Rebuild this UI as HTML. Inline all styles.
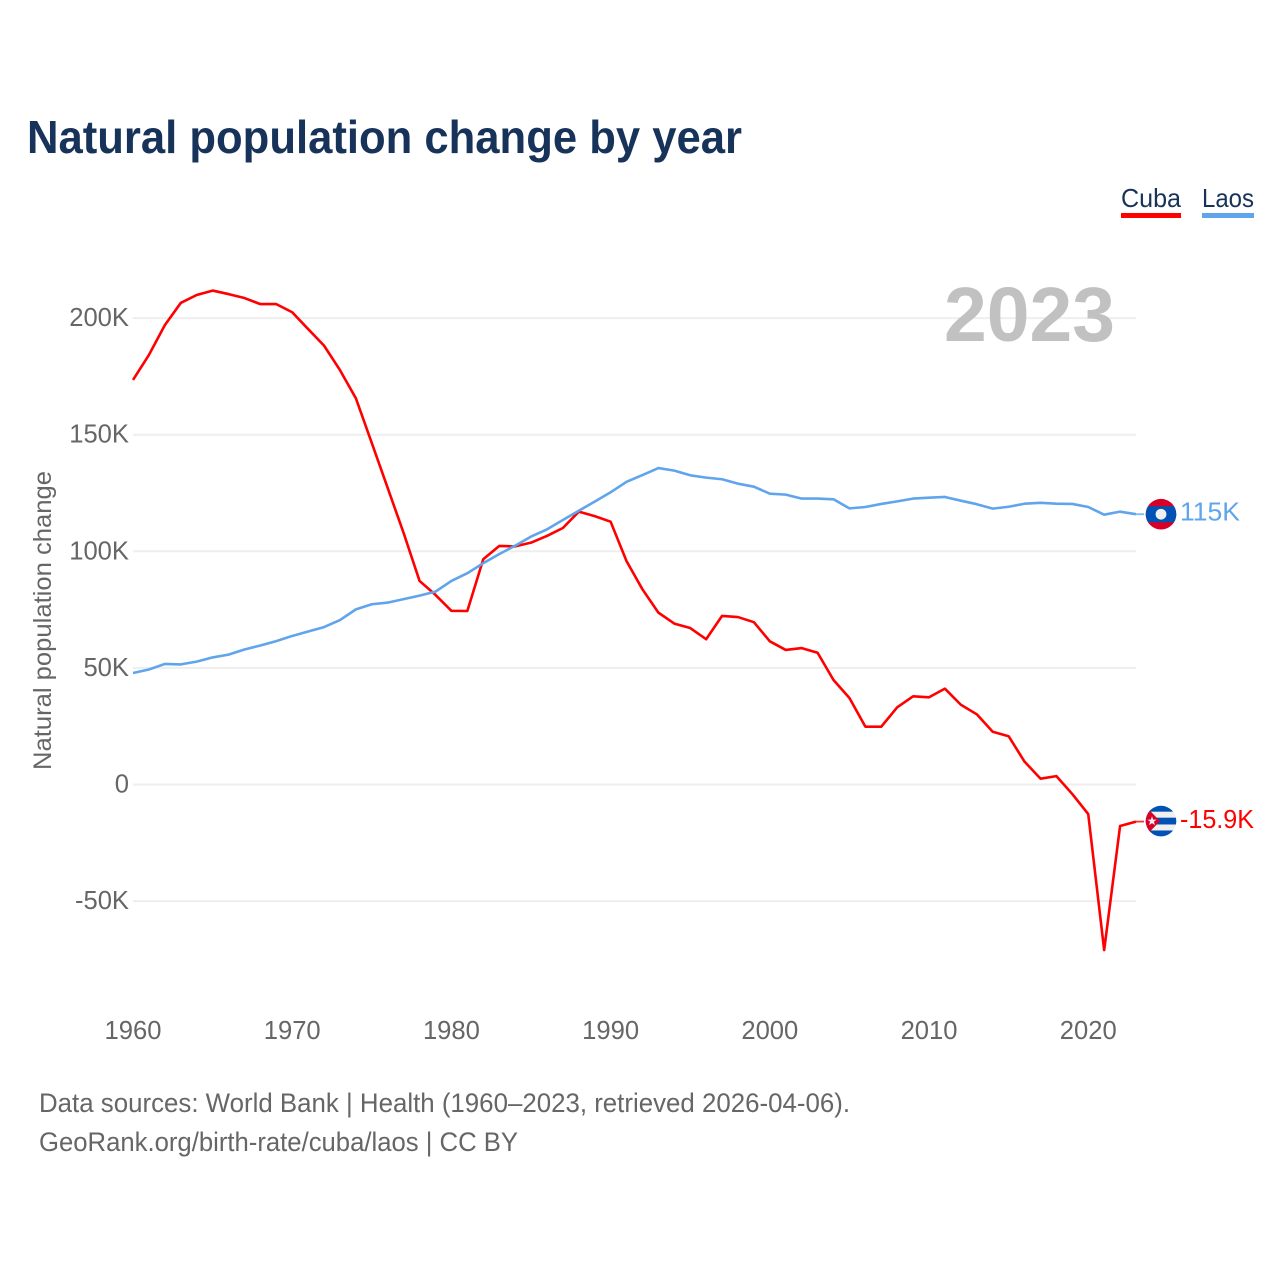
<!DOCTYPE html>
<html lang="en">
<head>
<meta charset="utf-8">
<title>Natural population change by year</title>
<style>
html,body{margin:0;padding:0;background:#fff;}
svg{display:block;font-family:"Liberation Sans",sans-serif;}
</style>
</head>
<body>
<svg id="chart" xmlns="http://www.w3.org/2000/svg" width="1280" height="1280" viewBox="0 0 1280 1280">
  <defs>
    <clipPath id="flag-clip"><circle cx="0" cy="0" r="15.3"/></clipPath>
  </defs>
  <rect x="0" y="0" width="1280" height="1280" fill="#ffffff"/>
  <text x="27" y="153" font-size="46" font-weight="700" fill="#17335a" textLength="715" lengthAdjust="spacingAndGlyphs">Natural population change by year</text>

  <g>
    <g>
      <text x="1121" y="207" font-size="26" fill="#17335a" textLength="60" lengthAdjust="spacingAndGlyphs">Cuba</text>
      <rect x="1121" y="213" width="60" height="5" fill="#ff0000"/>
    </g>
    <g>
      <text x="1202" y="207" font-size="26" fill="#17335a" textLength="52" lengthAdjust="spacingAndGlyphs">Laos</text>
      <rect x="1202" y="213" width="52" height="5" fill="#60a5ec"/>
    </g>
  </g>

  <g id="grid"></g>
  <g id="y-axis"></g>
  <g id="x-axis"></g>

  <text x="944" y="341" font-size="77" font-weight="700" fill="#c1c1c1" textLength="171" lengthAdjust="spacingAndGlyphs">2023</text>

  <text transform="translate(51,770) rotate(-90)" x="0" y="0" font-size="25" fill="#666666" textLength="299" lengthAdjust="spacingAndGlyphs">Natural population change</text>

  <g id="series"></g>

  <g id="flag-laos">
    <g clip-path="url(#flag-clip)">
      <rect x="-16" y="-16" width="32" height="32" fill="#d80027"/>
      <rect x="-16" y="-8" width="32" height="16" fill="#0052b4"/>
      <circle cx="0" cy="0" r="5.4" fill="#f0f0f0"/>
    </g>
  </g>
  <g id="flag-cuba">
    <g clip-path="url(#flag-clip)">
      <rect x="-16" y="-16" width="32" height="32" fill="#f0f0f0"/>
      <rect x="-16" y="-16" width="32" height="6.6" fill="#0052b4"/>
      <rect x="-16" y="-3.4" width="32" height="6.8" fill="#0052b4"/>
      <rect x="-16" y="9.4" width="32" height="6.6" fill="#0052b4"/>
      <polygon points="-15.5,-15 -1,0 -15.5,15" fill="#d80027"/>
      <polygon points="-9,-4.8 -7.8,-1.5 -4.4,-1.5 -7.1,0.6 -6.1,4 -9,2 -11.9,4 -10.9,0.6 -13.6,-1.5 -10.2,-1.5" fill="#f0f0f0"/>
    </g>
  </g>

  <text id="value-laos" x="1180" font-size="26" fill="#60a5ec" textLength="60" lengthAdjust="spacingAndGlyphs">115K</text>
  <text id="value-cuba" x="1180" font-size="26" fill="#ff0000" textLength="74" lengthAdjust="spacingAndGlyphs">-15.9K</text>

  <g>
    <text x="39" y="1112" font-size="26.5" fill="#666666" textLength="811" lengthAdjust="spacingAndGlyphs">Data sources: World Bank | Health (1960–2023, retrieved 2026-04-06).</text>
    <text x="39" y="1151" font-size="26.5" fill="#666666" textLength="479" lengthAdjust="spacingAndGlyphs">GeoRank.org/birth-rate/cuba/laos | CC BY</text>
  </g>
</svg>
<script>
const firstYear = 1960;
const cubaValues = [173.5,184.2,197.0,206.5,209.9,211.8,210.3,208.6,206.0,206.0,202.5,195.3,188.2,177.7,165.6,146.4,127.1,107.8,87.3,81.3,74.5,74.4,96.6,102.3,102.1,103.7,106.6,110.0,117.0,115.1,112.7,95.8,83.7,73.7,69.0,67.1,62.3,72.3,71.8,69.6,61.4,57.7,58.5,56.5,44.8,37.1,24.8,24.8,33.1,37.8,37.4,41.1,34.2,30.1,22.6,20.7,9.8,2.5,3.6,-4.1,-12.7,-71.0,-17.8,-15.9];
const laosValues = [47.8,49.3,51.7,51.5,52.7,54.5,55.7,57.9,59.6,61.5,63.7,65.6,67.5,70.5,75.1,77.3,78.0,79.5,81.0,82.7,87.3,90.6,94.9,98.8,102.4,106.3,109.4,113.4,117.4,121.3,125.3,129.8,132.7,135.7,134.6,132.6,131.6,130.9,129.0,127.7,124.7,124.3,122.6,122.6,122.3,118.4,119.0,120.3,121.4,122.6,123.0,123.3,121.7,120.2,118.3,119.1,120.4,120.8,120.4,120.3,119.0,115.7,117.0,115.9];
const yTickValues = [-50,0,50,100,150,200];
const yTickLabels = ["-50K","0","50K","100K","150K","200K"];
const xTickValues = [1960,1970,1980,1990,2000,2010,2020];
const xTickLabels = ["1960","1970","1980","1990","2000","2010","2020"];

const SVG_NS = "http://www.w3.org/2000/svg";
const plotLeft = 133, plotRight = 1136, zeroY = 784.5, pxPerK = 2.332;
const lastYear = firstYear + cubaValues.length - 1;
function xScale(year){ return plotLeft + (year - firstYear) * (plotRight - plotLeft) / (lastYear - firstYear); }
function yScale(value){ return zeroY - value * pxPerK; }
function make(tag, parent){
  const el = document.createElementNS(SVG_NS, tag);
  parent.appendChild(el);
  return el;
}

const gridGroup = document.getElementById("grid");
const yAxisGroup = document.getElementById("y-axis");
const xAxisGroup = document.getElementById("x-axis");
const seriesGroup = document.getElementById("series");

yTickValues.forEach(function(value, i){
  const line = make("line", gridGroup);
  
  
  line.setAttribute("x1", plotLeft);
  line.setAttribute("x2", plotRight);
  line.setAttribute("y1", yScale(value));
  line.setAttribute("y2", yScale(value));
  line.setAttribute("stroke", "#eeeeee");
  line.setAttribute("stroke-width", "2");

  const label = make("text", yAxisGroup);
  
  
  label.setAttribute("x", plotLeft - 4);
  label.setAttribute("y", yScale(value) + 8);
  label.setAttribute("text-anchor", "end");
  label.setAttribute("font-size", "25.6");
  label.setAttribute("fill", "#666666");
  label.textContent = yTickLabels[i];
});

xTickValues.forEach(function(year, i){
  const label = make("text", xAxisGroup);
  
  
  label.setAttribute("x", xScale(year));
  label.setAttribute("y", 1039);
  label.setAttribute("text-anchor", "middle");
  label.setAttribute("font-size", "25.6");
  label.setAttribute("fill", "#666666");
  label.textContent = xTickLabels[i];
});

function linePoints(values){
  return values.map(function(v, i){
    return xScale(firstYear + i).toFixed(2) + "," + yScale(v).toFixed(2);
  }).join(" ");
}

const cubaLine = make("polyline", seriesGroup);


cubaLine.setAttribute("points", linePoints(cubaValues));
cubaLine.setAttribute("fill", "none");
cubaLine.setAttribute("stroke", "#ff0000");
cubaLine.setAttribute("stroke-width", "2.6");
cubaLine.setAttribute("stroke-linejoin", "round");

const cubaLead = make("line", seriesGroup);


cubaLead.setAttribute("x1", plotRight);
cubaLead.setAttribute("x2", plotRight + 8);
cubaLead.setAttribute("y1", yScale(cubaValues[cubaValues.length - 1]));
cubaLead.setAttribute("y2", yScale(cubaValues[cubaValues.length - 1]));
cubaLead.setAttribute("stroke", "#ff0000");
cubaLead.setAttribute("stroke-width", "1.8");
cubaLead.setAttribute("stroke-opacity", "0.8");

const laosLine = make("polyline", seriesGroup);


laosLine.setAttribute("points", linePoints(laosValues));
laosLine.setAttribute("fill", "none");
laosLine.setAttribute("stroke", "#60a5ec");
laosLine.setAttribute("stroke-width", "2.6");
laosLine.setAttribute("stroke-linejoin", "round");

const laosLead = make("line", seriesGroup);


laosLead.setAttribute("x1", plotRight);
laosLead.setAttribute("x2", plotRight + 8);
laosLead.setAttribute("y1", yScale(laosValues[laosValues.length - 1]));
laosLead.setAttribute("y2", yScale(laosValues[laosValues.length - 1]));
laosLead.setAttribute("stroke", "#60a5ec");
laosLead.setAttribute("stroke-width", "1.8");
laosLead.setAttribute("stroke-opacity", "0.8");

const cubaEndY = yScale(cubaValues[cubaValues.length - 1]);
const laosEndY = yScale(laosValues[laosValues.length - 1]);
document.getElementById("flag-cuba").setAttribute("transform", "translate(1161," + (cubaEndY - 0.5) + ")");
document.getElementById("flag-laos").setAttribute("transform", "translate(1161," + laosEndY + ")");
document.getElementById("value-cuba").setAttribute("y", cubaEndY + 6.5);
document.getElementById("value-laos").setAttribute("y", laosEndY + 6.5);
</script>
</body>
</html>
